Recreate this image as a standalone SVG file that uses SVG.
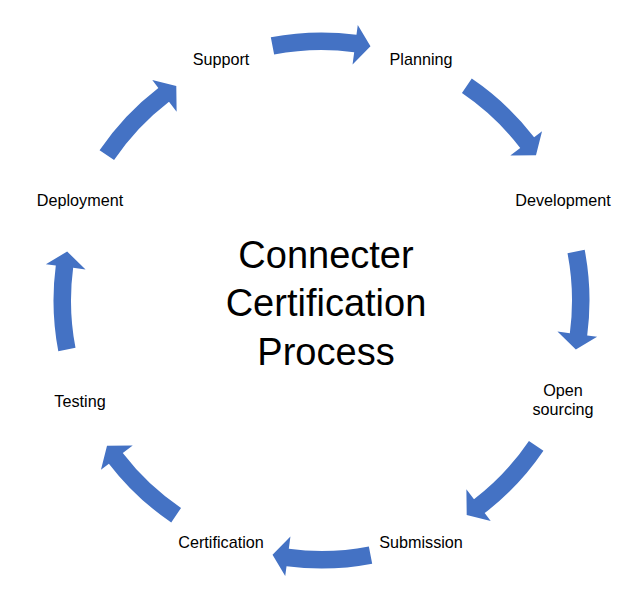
<svg xmlns="http://www.w3.org/2000/svg" width="641" height="605" viewBox="0 0 641 605">
<style>
.lbl{font-family:"Liberation Sans",Arial,sans-serif;font-size:16.2px;fill:#000;text-anchor:middle}
.title{font-family:"Liberation Sans",Arial,sans-serif;font-size:38px;fill:#000;text-anchor:middle}
.arr{fill:#4472C4}
</style>
<defs>
<path id="arc" class="arr" d="M 270.82 37.32 A 268 268 0 0 1 356.47 34.80 L 357.78 24.89 L 370.48 46.16 L 352.56 64.55 L 354.19 52.15 A 250.5 250.5 0 0 0 274.13 54.5 Z"/>
</defs>
<rect width="641" height="605" fill="#fff"/>
<g id="connectors">
<use href="#arc"/>
<use href="#arc" transform="rotate(45 321.5 300.5)"/>
<use href="#arc" transform="rotate(90 321.5 300.5)"/>
<use href="#arc" transform="rotate(135 321.5 300.5)"/>
<use href="#arc" transform="rotate(180 321.5 300.5)"/>
<use href="#arc" transform="rotate(225 321.5 300.5)"/>
<use href="#arc" transform="rotate(270 321.5 300.5)"/>
<use href="#arc" transform="rotate(315 321.5 300.5)"/>
</g>
<g id="title"><text class="title"><tspan x="326" y="268">Connecter</tspan><tspan x="326" y="316">Certification</tspan><tspan x="326" y="365">Process</tspan></text></g>
<g id="support"><text class="lbl" x="221" y="65">Support</text></g>
<g id="planning"><text class="lbl" x="421" y="65">Planning</text></g>
<g id="development"><text class="lbl" x="563" y="206">Development</text></g>
<g id="opensourcing"><text class="lbl"><tspan x="563" y="396">Open</tspan><tspan x="563" y="415">sourcing</tspan></text></g>
<g id="submission"><text class="lbl" x="421" y="548">Submission</text></g>
<g id="certification"><text class="lbl" x="221" y="548">Certification</text></g>
<g id="testing"><text class="lbl" x="80" y="407">Testing</text></g>
<g id="deployment"><text class="lbl" x="80" y="206">Deployment</text></g>
</svg>
